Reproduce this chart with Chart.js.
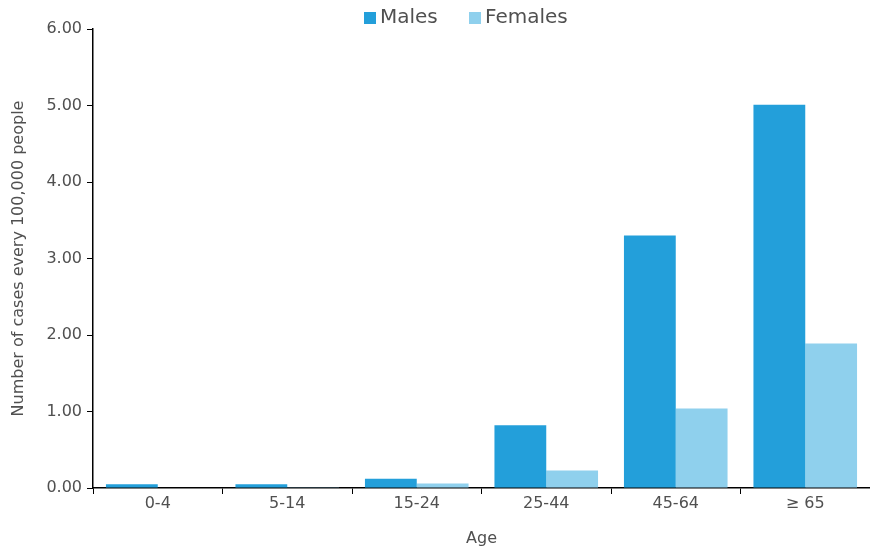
<!DOCTYPE html>
<html><head><meta charset="utf-8">
<script src="https://cdn.jsdelivr.net/npm/chart.js@4"></script>
<style>html,body{margin:0;padding:0;background:#fff}#wrap{width:870px;height:552px}</style>
</head><body><div id="wrap"><canvas id="c" width="870" height="552"></canvas></div>
<script>
const categories = ["0-4", "5-14", "15-24", "25-44", "45-64", "\u2265 65"];
const males = [0.05, 0.05, 0.12, 0.82, 3.30, 5.01];
const females = [0.00, 0.01, 0.06, 0.23, 1.04, 1.89];
const yTicks = [0, 1, 2, 3, 4, 5, 6];
const FONT = "'DejaVu Sans', sans-serif";
const TXT = '#505050';

const topLegend = {
  id: 'topLegend',
  afterDraw(chart) {
    const ctx = chart.ctx;
    ctx.save();
    ctx.font = '20px ' + FONT;
    ctx.textBaseline = 'middle';
    ctx.textAlign = 'left';
    const xs = [364, 469];
    chart.data.datasets.forEach((ds, i) => {
      const x = xs[i];
      ctx.fillStyle = ds.backgroundColor;
      ctx.fillRect(x, 12, 12, 12);
      ctx.fillStyle = TXT;
      ctx.fillText(ds.label, x + 16, 18);
    });
    ctx.restore();
  }
};

new Chart(document.getElementById('c'), {
  type: 'bar',
  data: {
    labels: categories,
    datasets: [
      {label: 'Males', data: males, backgroundColor: '#239fda', categoryPercentage: 0.8, barPercentage: 1.0},
      {label: 'Females', data: females, backgroundColor: '#8fd0ed', categoryPercentage: 0.8, barPercentage: 1.0}
    ]
  },
  plugins: [topLegend],
  options: {
    responsive: false,
    animation: false,
    layout: {padding: {left: 0, right: -1, top: 29, bottom: 0}},
    plugins: {
      legend: {display: false},
      tooltip: {enabled: false}
    },
    scales: {
      x: {
        afterFit: (s) => { s.height = 64; },
        grid: {drawOnChartArea: false, drawTicks: true, tickLength: 6, color: '#000', offset: true},
        border: {display: true, color: '#000', width: 1.5},
        ticks: {color: TXT, font: {family: FONT, size: 16}, padding: 0, maxRotation: 0},
        title: {display: true, text: 'Age', color: TXT, font: {family: FONT, size: 16}, padding: {top: 0, bottom: 4}}
      },
      y: {
        min: 0, max: 6,
        afterBuildTicks: (s) => { s.ticks = yTicks.map(v => ({value: v})); },
        afterFit: (s) => { s.width = 93; },
        grid: {drawOnChartArea: false, drawTicks: true, tickLength: 6, color: '#000'},
        border: {display: true, color: '#000', width: 1.5},
        ticks: {color: TXT, font: {family: FONT, size: 16}, padding: 5, callback: (v) => Number(v).toFixed(2)},
        title: {display: true, text: 'Number of cases every 100,000 people', color: TXT, font: {family: FONT, size: 16}, padding: {top: 9, bottom: 0}}
      }
    }
  }
});
</script></body></html>
